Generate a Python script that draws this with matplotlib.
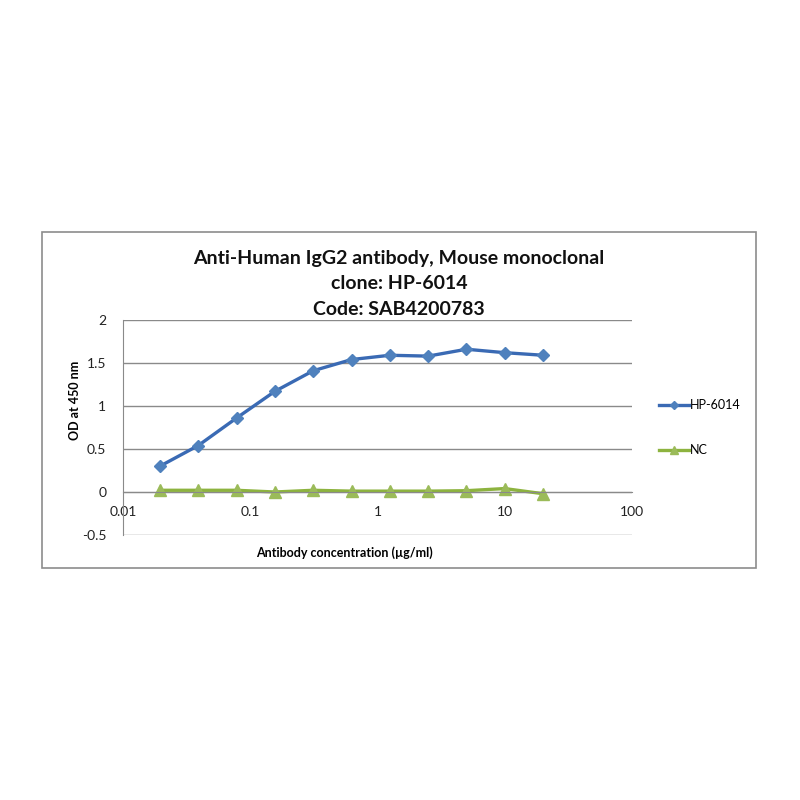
import numpy as np
import matplotlib
matplotlib.use("Agg")
import matplotlib.pyplot as plt
from matplotlib.patches import Rectangle

# ------------------------------------------------------------
# Data
# ------------------------------------------------------------

conc = [0.0195, 0.039, 0.078, 0.156, 0.3125, 0.625, 1.25, 2.5, 5, 10, 20]
hp6014 = [0.30, 0.54, 0.86, 1.17, 1.41, 1.54, 1.59, 1.58, 1.66, 1.62, 1.59]
nc = [0.02, 0.02, 0.02, 0.00, 0.02, 0.01, 0.01, 0.01, 0.015, 0.04, -0.02]

yticks = [-0.5, 0, 0.5, 1, 1.5, 2]
ytick_labels = ["-0.5", "0", "0.5", "1", "1.5", "2"]
xticks = [0.01, 0.1, 1, 10, 100]
xtick_labels = ["0.01", "0.1", "1", "10", "100"]

title = "Anti-Human IgG2 antibody, Mouse monoclonal\nclone: HP-6014\nCode: SAB4200783"

plt.rcParams['font.family'] = ['Lato', 'DejaVu Sans']

fig = plt.figure(figsize=(8, 8), dpi=100)

# outer chart border
fig.patches.append(Rectangle((42 / 800, 1 - 568 / 800), 714 / 800, 336 / 800,
                             transform=fig.transFigure, fill=False,
                             edgecolor="#8c8c8c", linewidth=1.2))

ax = fig.add_axes([123 / 800, 1 - 535 / 800, 509 / 800, 215 / 800])

ax.plot(conc, hp6014, color="#3a6ab4", linewidth=2.4, marker="D",
        markersize=6, markerfacecolor="#4f81bd", markeredgecolor="#4f81bd",
        label="HP-6014")
ax.plot(conc, nc, color="#8db33f", linewidth=2.4, marker="^",
        markersize=8, markerfacecolor="#9bbb59", markeredgecolor="#9bbb59",
        label="NC")

ax.set_xscale("log")
ax.set_xlim(0.01, 100)
ax.set_ylim(-0.5, 2)
ax.set_yticks(yticks)
ax.set_yticklabels(ytick_labels)
ax.set_xticks(xticks)
ax.set_xticklabels(xtick_labels)
ax.minorticks_off()

ax.grid(axis="y", color="#8a8a8a", linewidth=1.0)
ax.set_axisbelow(True)

for side in ["top", "right"]:
    ax.spines[side].set_visible(False)
ax.spines["left"].set_color("#8a8a8a")
ax.spines["bottom"].set_position(("data", 0))
ax.spines["bottom"].set_color("#8a8a8a")

ax.tick_params(axis="both", length=0, labelsize=10, colors="#222222")
ax.tick_params(axis="x", pad=10)
ax.tick_params(axis="y", pad=12)

fig.text(399 / 800, 1 - 250 / 800, title, ha="center", va="top",
         fontsize=14, fontweight="bold", linespacing=1.6, color="#111111")

fig.text(75 / 800, 1 - 400 / 800, "OD at 450 nm", rotation=90,
         ha="center", va="center", fontsize=9, fontweight="bold")
fig.text(344 / 800, 1 - 553 / 800, "Antibody concentration (\u00b5g/ml)",
         ha="center", va="center", fontsize=9, fontweight="bold")

ax.legend(loc="center left", bbox_to_anchor=(1.03, 0.5), frameon=False,
          fontsize=9, handlelength=2.4, handletextpad=0.1,
          labelspacing=2.65, markerscale=0.7)

fig.savefig("out.png", dpi=100)
